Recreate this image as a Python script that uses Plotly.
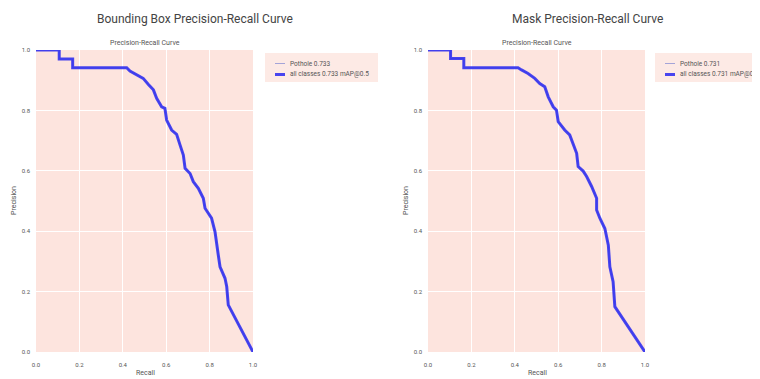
import plotly.graph_objects as go

# ---- data ----
bbox_recall = [0.0, 0.107, 0.107, 0.169, 0.169, 0.418, 0.433, 0.464, 0.494, 0.518, 0.541, 0.556,
               0.579, 0.594, 0.602, 0.625, 0.648, 0.664, 0.679, 0.687, 0.710, 0.725, 0.748,
               0.771, 0.779, 0.809, 0.825, 0.840, 0.848, 0.871, 0.879, 0.886, 1.0]
bbox_precision = [1.0, 1.0, 0.970, 0.970, 0.941, 0.941, 0.930, 0.919, 0.906, 0.886, 0.868, 0.840,
                  0.812, 0.807, 0.768, 0.735, 0.721, 0.685, 0.652, 0.608, 0.591, 0.564, 0.542,
                  0.509, 0.476, 0.443, 0.398, 0.321, 0.282, 0.244, 0.216, 0.156, 0.0]

mask_recall = [0.0, 0.104, 0.104, 0.165, 0.165, 0.415, 0.431, 0.461, 0.492, 0.515, 0.538, 0.554,
               0.577, 0.592, 0.600, 0.630, 0.653, 0.669, 0.685, 0.692, 0.715, 0.731, 0.754,
               0.777, 0.777, 0.792, 0.815, 0.831, 0.838, 0.853, 0.861, 1.0]
mask_precision = [1.0, 1.0, 0.972, 0.972, 0.941, 0.941, 0.934, 0.922, 0.906, 0.889, 0.878, 0.845,
                  0.812, 0.801, 0.763, 0.735, 0.719, 0.685, 0.658, 0.614, 0.599, 0.581, 0.548,
                  0.509, 0.470, 0.443, 0.409, 0.354, 0.282, 0.233, 0.150, 0.0]

panel_titles = ["Bounding Box Precision-Recall Curve", "Mask Precision-Recall Curve"]
class_labels = ["Pothole 0.733", "Pothole 0.731"]
all_labels = ["all classes 0.733 mAP@0.5", "all classes 0.731 mAP@0.5"]
tick_vals = [0.0, 0.2, 0.4, 0.6, 0.8, 1.0]
tick_text = ["0.0", "0.2", "0.4", "0.6", "0.8", "1.0"]

# page body has an 8px margin; figure is sized so it fits the 760x379 window
OFF = 8
W, H = 760 - OFF, 379 - OFF
BG = "#fde4de"
TXT = "#555555"
FONT = "Roboto"
THIN = "#a4a4d8"
THICK = "rgba(40,40,240,0.85)"


def px(xp):
    return (xp - OFF) / W


def py(yp):
    return (H - (yp - OFF)) / H


fig = go.Figure()

plot_left = [36, 428]
plot_right = [253, 645]
plot_top, plot_bottom = 50, 352
data = [(bbox_recall, bbox_precision), (mask_recall, mask_precision)]

for i in range(2):
    xa = "x" if i == 0 else "x2"
    ya = "y" if i == 0 else "y2"
    r, p = data[i]
    fig.add_trace(go.Scatter(x=r, y=p, mode="lines", name=class_labels[i],
                             line=dict(color=THIN, width=1), xaxis=xa, yaxis=ya, showlegend=False))
    fig.add_trace(go.Scatter(x=r, y=p, mode="lines", name=all_labels[i],
                             line=dict(color=THICK, width=3), xaxis=xa, yaxis=ya, showlegend=False))

axis_common = dict(range=[0, 1], tickvals=tick_vals, ticktext=tick_text, showgrid=True,
                   gridcolor="white", gridwidth=1, zeroline=False, showline=False,
                   ticks="", tickfont=dict(size=6, color=TXT, family=FONT))

y_domain = [py(plot_bottom), py(plot_top)]
fig.update_layout(
    xaxis=dict(domain=[px(plot_left[0]), px(plot_right[0])], anchor="y", ticklabelstandoff=8, **axis_common),
    yaxis=dict(domain=y_domain, anchor="x", ticklabelstandoff=5, **axis_common),
    xaxis2=dict(domain=[px(plot_left[1]), px(plot_right[1])], anchor="y2", ticklabelstandoff=8, **axis_common),
    yaxis2=dict(domain=y_domain, anchor="x2", ticklabelstandoff=5, **axis_common),
)

annotations = []
shapes = []
title_cx = [195, 587]
sub_cx = [145, 537]
ylab_x = [14, 406]
leg_box = [(265, 378), (655, 780)]
leg_line = [(275, 285), (665, 675)]
leg_text_x = [288, 678]
for i in range(2):
    annotations.append(dict(text=panel_titles[i], x=px(title_cx[i]), y=py(19), xref="paper", yref="paper",
                            xanchor="center", yanchor="middle", showarrow=False,
                            font=dict(size=12, color="#444444", family=FONT)))
    annotations.append(dict(text="Precision-Recall Curve", x=px(sub_cx[i]), y=py(43), xref="paper", yref="paper",
                            xanchor="center", yanchor="middle", showarrow=False,
                            font=dict(size=7, color=TXT, family=FONT)))
    annotations.append(dict(text="Recall", x=px(sub_cx[i]), y=py(373), xref="paper", yref="paper",
                            xanchor="center", yanchor="middle", showarrow=False,
                            font=dict(size=7, color=TXT, family=FONT)))
    annotations.append(dict(text="Precision", x=px(ylab_x[i]), y=py(201), xref="paper", yref="paper",
                            xanchor="center", yanchor="middle", showarrow=False, textangle=-90,
                            font=dict(size=7, color=TXT, family=FONT)))
    # legend
    shapes.append(dict(type="rect", xref="paper", yref="paper",
                       x0=px(leg_box[i][0]), x1=px(leg_box[i][1]), y0=py(82), y1=py(53),
                       fillcolor="#fdeae5", line=dict(width=0), layer="below"))
    shapes.append(dict(type="line", xref="paper", yref="paper",
                       x0=px(leg_line[i][0]), x1=px(leg_line[i][1]), y0=py(63.5), y1=py(63.5),
                       line=dict(color=THIN, width=1)))
    shapes.append(dict(type="line", xref="paper", yref="paper",
                       x0=px(leg_line[i][0]), x1=px(leg_line[i][1]), y0=py(74.5), y1=py(74.5),
                       line=dict(color=THICK, width=3)))
    annotations.append(dict(text=class_labels[i], x=px(leg_text_x[i]), y=py(63.5), xref="paper", yref="paper",
                            xanchor="left", yanchor="middle", showarrow=False,
                            font=dict(size=6.5, color=TXT, family=FONT)))
    annotations.append(dict(text=all_labels[i], x=px(leg_text_x[i]), y=py(74.5), xref="paper", yref="paper",
                            xanchor="left", yanchor="middle", showarrow=False,
                            font=dict(size=6.5, color=TXT, family=FONT)))

fig.update_layout(
    width=W, height=H, margin=dict(l=0, r=0, t=0, b=0, autoexpand=False),
    paper_bgcolor="white", plot_bgcolor=BG, showlegend=False,
    annotations=annotations, shapes=shapes,
)

fig.write_html("out.html")
